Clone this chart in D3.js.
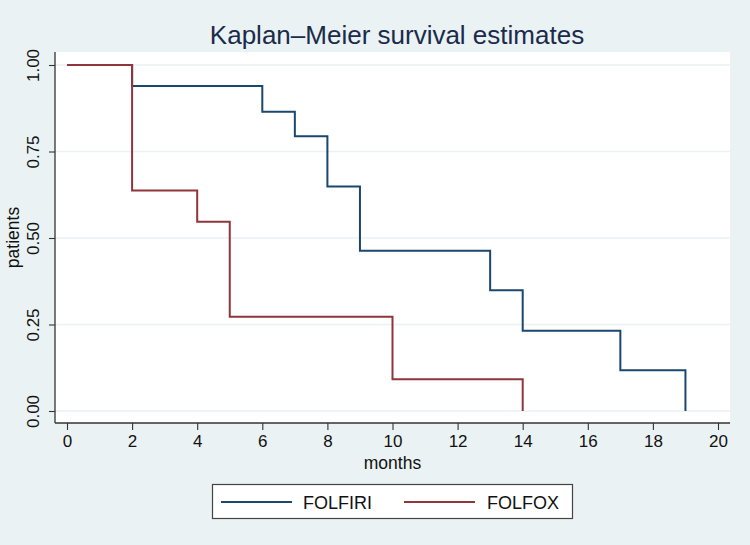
<!DOCTYPE html>
<html><head><meta charset="utf-8">
<script src="https://cdn.jsdelivr.net/npm/d3@7"></script>
<style>html,body{margin:0;padding:0;background:#eaf2f3;}svg{display:block;}</style>
</head><body>
<script>
const title = "Kaplan–Meier survival estimates";
const xTicks = [0,2,4,6,8,10,12,14,16,18,20];
const yTicks = [0,0.25,0.5,0.75,1];
const folfiriMonths = [0,2,6,7,8,9,13,14,17,19];
const folfiriSurv   = [1,0.939,0.865,0.794,0.649,0.463,0.349,0.232,0.118,0];
const folfoxMonths  = [0,2,4,5,10,14];
const folfoxSurv    = [1,0.637,0.547,0.2725,0.0916,0];
const seriesNames = ["FOLFIRI","FOLFOX"];
const seriesColors = ["#1a476f","#90353b"];

const W=750,H=545;
const svg=d3.select("body").append("svg").attr("width",W).attr("height",H);
svg.append("rect").attr("width",W).attr("height",H).attr("fill","#eaf2f3");
const font="Liberation Sans, Arial, sans-serif";
const plot={l:55,r:730,t:52,b:423};
svg.append("rect").attr("x",plot.l).attr("y",plot.t).attr("width",plot.r-plot.l).attr("height",plot.b-plot.t).attr("fill","#fff");

const x=d3.scaleLinear().domain([0,20]).range([67,718]);
const y=d3.scaleLinear().domain([0,1]).range([411,65]);

// grid
svg.append("g").selectAll("line").data(yTicks).join("line")
  .attr("x1",plot.l).attr("x2",plot.r).attr("y1",d=>y(d)).attr("y2",d=>y(d))
  .attr("stroke","#eaf2f3").attr("stroke-width",1.5);

// series
const line=d3.line().x(d=>x(d[0])).y(d=>y(d[1])).curve(d3.curveStepAfter);
const data=[d3.zip(folfiriMonths,folfiriSurv), d3.zip(folfoxMonths,folfoxSurv)];
data.forEach((pts,i)=>{
  svg.append("path").attr("d",line(pts)).attr("fill","none")
    .attr("stroke",seriesColors[i]).attr("stroke-width",2);
});

// axes
const xAxis=svg.append("g").attr("transform",`translate(0,${plot.b})`)
  .call(d3.axisBottom(x).tickValues(xTicks).tickSize(7).tickPadding(5).tickFormat(d3.format("d")));
xAxis.select(".domain").attr("d",`M${plot.l},0H${plot.r}`);
const yAxis=svg.append("g").attr("transform",`translate(${plot.l},0)`)
  .call(d3.axisLeft(y).tickValues(yTicks).tickSize(6).tickFormat(d3.format(".2f")));
yAxis.select(".domain").attr("d",`M0,${plot.t}V${plot.b}`);
[xAxis,yAxis].forEach(g=>{
  g.selectAll(".domain").attr("stroke","#333").attr("stroke-width",1.3);
  g.selectAll(".tick line").attr("stroke","#333").attr("stroke-width",1.1);
  g.selectAll("text").attr("font-family",font).attr("font-size",17).attr("fill","#111");
});
yAxis.selectAll(".tick text").attr("text-anchor","middle").attr("x",null).attr("y",0)
  .attr("dy","0").attr("transform","translate(-16,0) rotate(-90)");

// axis titles
svg.append("text").attr("x",x(10)).attr("y",469).attr("text-anchor","middle")
  .attr("font-family",font).attr("font-size",17.5).attr("fill","#111").text("months");
svg.append("text").attr("transform",`translate(19,${(plot.t+plot.b)/2}) rotate(-90)`).attr("text-anchor","middle")
  .attr("font-family",font).attr("font-size",17.5).attr("fill","#111").text("patients");

// title
svg.append("text").attr("x",397).attr("y",44).attr("text-anchor","middle")
  .attr("font-family",font).attr("font-size",26).attr("fill","#1a2b4c").text(title);

// legend
const lg=svg.append("g");
lg.append("rect").attr("x",212.5).attr("y",484.5).attr("width",360).attr("height",34)
  .attr("fill","#fff").attr("stroke","#444").attr("stroke-width",1.2);
const lx=[[221,292,303],[404,475,487]];
seriesNames.forEach((n,i)=>{
  lg.append("line").attr("x1",lx[i][0]).attr("x2",lx[i][1]).attr("y1",502).attr("y2",502)
    .attr("stroke",seriesColors[i]).attr("stroke-width",2);
  lg.append("text").attr("x",lx[i][2]).attr("y",509).attr("font-family",font).attr("font-size",18)
    .attr("fill","#111").text(n);
});
</script>
</body></html>
